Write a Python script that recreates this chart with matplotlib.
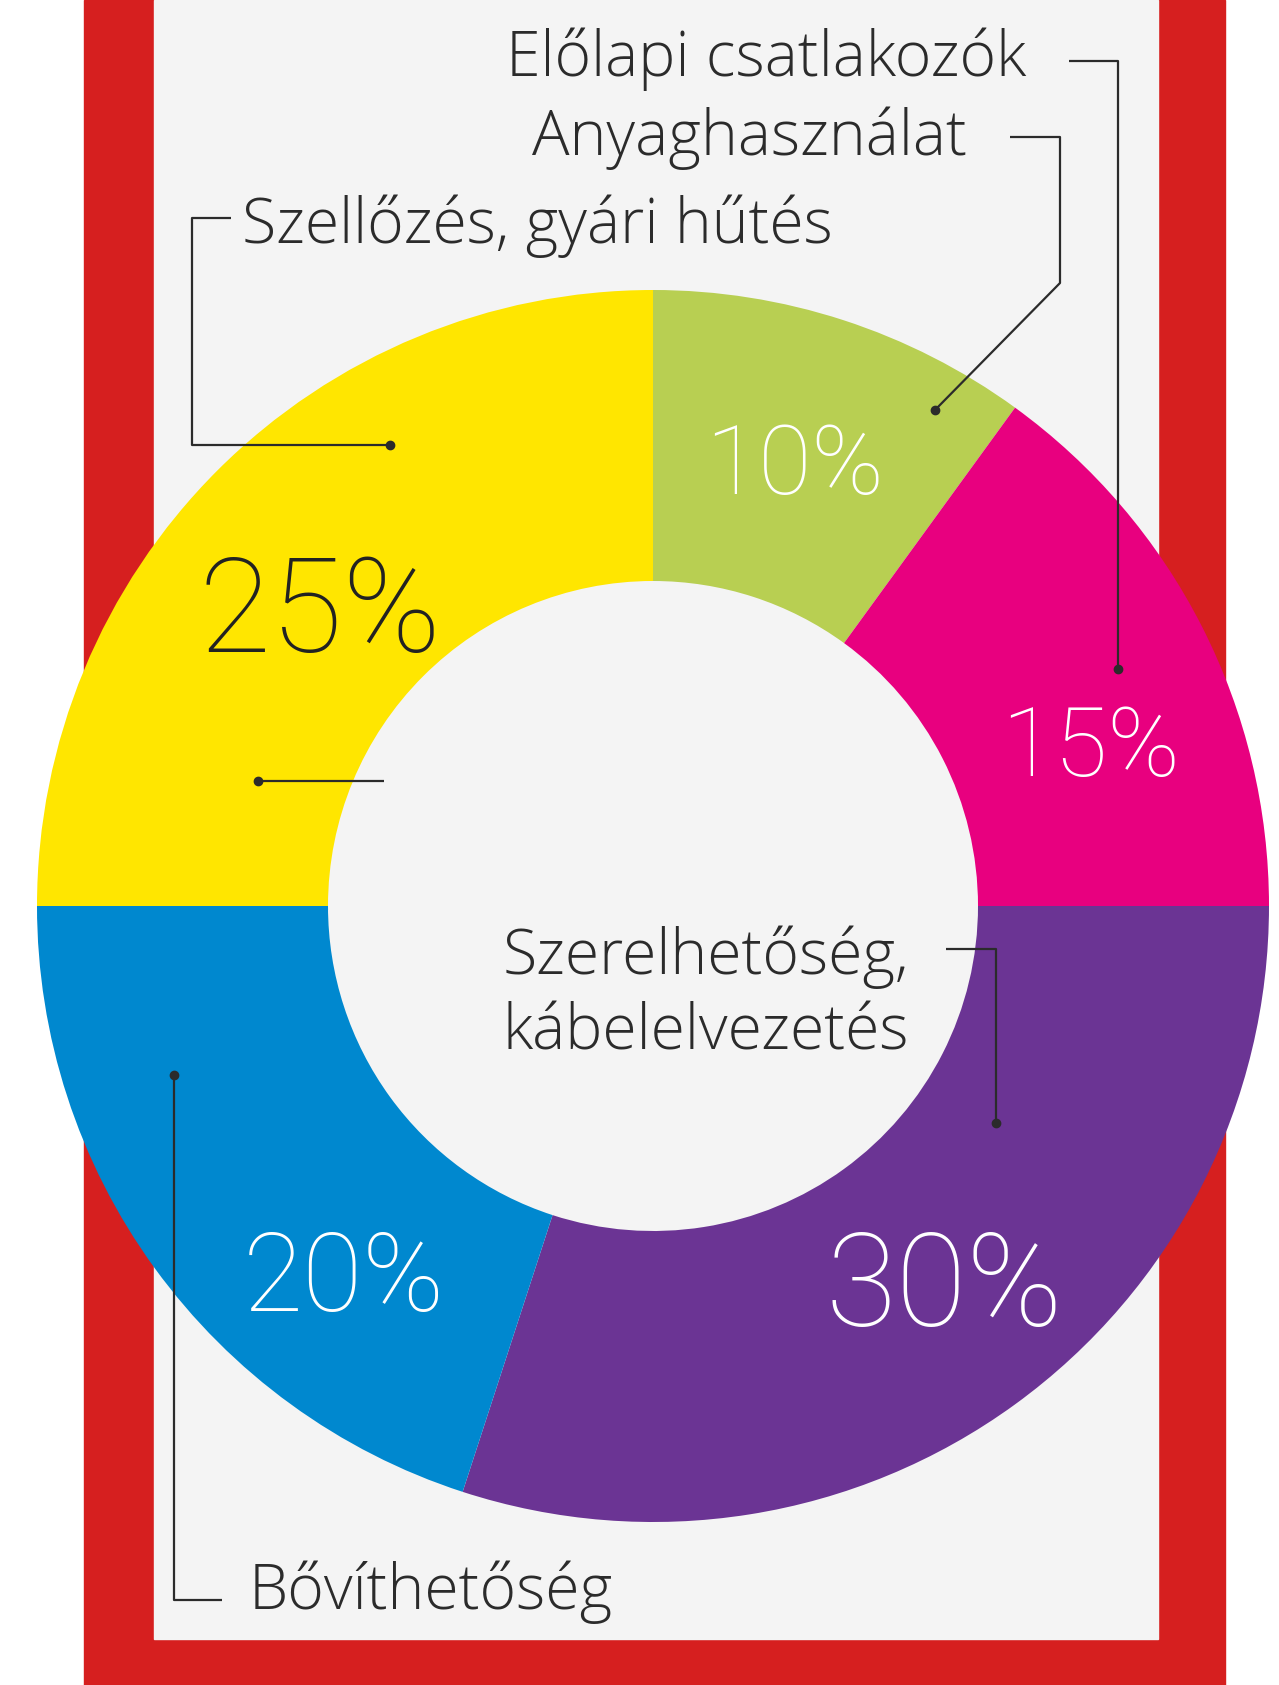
import matplotlib
matplotlib.use("Agg")
import matplotlib.pyplot as plt
from matplotlib.patches import Rectangle

W, H = 1279, 1685

# slice data, clockwise from 12 o'clock
categories = ['Anyaghasználat', 'Előlapi csatlakozók', 'Szerelhetőség,\nkábelelvezetés',
              'Bővíthetőség', 'Szellőzés, gyári hűtés']
shares = [10, 15, 30, 20, 25]
pct_labels = ['10%', '15%', '30%', '20%', '25%']
colors = ['#B8CF52', '#E8007F', '#6B3494', '#0088CF', '#FFE600']
pct_colors = ['white', 'white', 'white', 'white', '#222222']

red = '#D61F1F'
grey = '#F4F4F4'
ink = '#2B2B2B'

fig = plt.figure(figsize=(W / 100, H / 100), dpi=100)
fig.patch.set_facecolor('white')
ax = fig.add_axes([0, 0, 1, 1])

def Y(y):  # pixel row -> data y
    return H - y

# frame
ax.add_patch(Rectangle((84, 0), 1225 - 84, H, color=red, zorder=0))
ax.add_patch(Rectangle((154, Y(1639)), 1158 - 154, 1639, color=grey, zorder=0.5))

cx, cy = 653, Y(906)
r_out, r_in = 616, 325
wedges, _ = ax.pie(shares, colors=colors, startangle=90, counterclock=False,
                   radius=r_out, center=(cx, cy), frame=True,
                   wedgeprops=dict(width=r_out - r_in, linewidth=0))
ax.set_xlim(0, W)
ax.set_ylim(0, H)
ax.axis('off')

pct_font = dict(family=['Roboto', 'DejaVu Sans'], weight='light', ha='center', va='center')
pct_pos = [(795, 467), (1091, 749), (944, 1290), (344, 1281), (320, 616)]
pct_size = [70, 70, 93, 79, 95]
for lab, (x, y), s, c in zip(pct_labels, pct_pos, pct_size, pct_colors):
    ax.text(x, Y(y), lab, fontsize=s, color=c, **pct_font)

lab_font = dict(family=['Open Sans', 'DejaVu Sans'], weight='light',
                color=ink, fontsize=45)

lw = 1.6
def leader(pts, dot):
    xs = [p[0] for p in pts]
    ys = [Y(p[1]) for p in pts]
    ax.plot(xs, ys, color=ink, lw=lw, solid_capstyle='butt', zorder=5)
    if dot:
        ax.plot(xs[-1], ys[-1], 'o', color=ink, ms=6, zorder=5)

# Előlapi csatlakozók
ax.text(1026, Y(59), categories[1], ha='right', va='center', **lab_font)
leader([(1069, 61), (1118, 61), (1118, 669)], True)

# Anyaghasználat
ax.text(967, Y(138), categories[0], ha='right', va='center', **lab_font)
leader([(1010, 137), (1060, 137), (1060, 283), (935, 410)], True)

# Szellőzés, gyári hűtés
ax.text(242, Y(226), categories[4], ha='left', va='center', **lab_font)
leader([(231, 218), (192, 218), (192, 445), (390, 445)], True)

# short leader inside yellow
leader([(384, 781), (258, 781)], True)

# Szerelhetőség, kábelelvezetés
ax.text(503, Y(995), categories[2], ha='left', va='center', linespacing=1.26, **lab_font)
leader([(946, 949), (996, 949), (996, 1123)], True)

# Bővíthetőség
ax.text(249, Y(1592), categories[3], ha='left', va='center', **lab_font)
leader([(222, 1600), (174, 1600), (174, 1075)], True)

fig.savefig('out.png', dpi=100, facecolor=fig.get_facecolor())
